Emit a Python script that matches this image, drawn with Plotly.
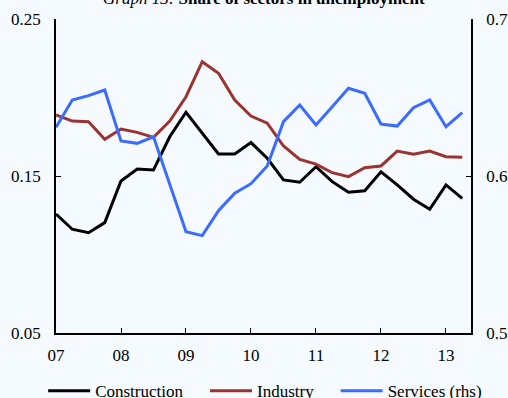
import plotly.graph_objects as go

## data (quarterly, 2007Q1 - 2013Q2) ##
x_q = [2007 + i * 0.25 for i in range(26)]
construction = [0.1258, 0.1161, 0.1139, 0.1203, 0.1468, 0.1545, 0.1538, 0.1750, 0.1906, 0.1772,
                0.1640, 0.1640, 0.1713, 0.1613, 0.1475, 0.1460, 0.1559, 0.1464, 0.1396, 0.1406,
                0.1527, 0.1443, 0.1352, 0.1288, 0.1443, 0.1358]
industry = [0.1889, 0.1850, 0.1846, 0.1734, 0.1799, 0.1778, 0.1746, 0.1850, 0.2005, 0.2228,
            0.2154, 0.1984, 0.1882, 0.1836, 0.1691, 0.1606, 0.1576, 0.1521, 0.1496, 0.1553,
            0.1564, 0.1659, 0.1638, 0.1659, 0.1623, 0.1619]
services = [0.6310, 0.6484, 0.6512, 0.6548, 0.6223, 0.6208, 0.6250, 0.5949, 0.5645, 0.5620,
            0.5779, 0.5890, 0.5951, 0.6064, 0.6346, 0.6452, 0.6325, 0.6441, 0.6559, 0.6527,
            0.6331, 0.6318, 0.6435, 0.6484, 0.6314, 0.6403]

year_ticks = [2007, 2008, 2009, 2010, 2011, 2012, 2013]
year_labels = ["07", "08", "09", "10", "11", "12", "13"]
left_ticks = [0.05, 0.15, 0.25]
right_ticks = [0.5, 0.6, 0.7]

bg = "#F5FAFE"
font = "Liberation Serif"
pad = "\u00a0" * 4  # extra room between legend entries

fig = go.Figure()
fig.add_trace(go.Scatter(x=x_q, y=construction, name="Construction" + pad, mode="lines",
                         line=dict(color="#000000", width=3)))
fig.add_trace(go.Scatter(x=x_q, y=industry, name="Industry" + pad, mode="lines",
                         line=dict(color="#9B3330", width=3)))
fig.add_trace(go.Scatter(x=x_q, y=services, name="Services (rhs)", mode="lines",
                         line=dict(color="#3B6BFF", width=3), yaxis="y2"))

axis_style = dict(showgrid=False, zeroline=False, showline=True, linecolor="black", linewidth=1.5,
                  ticks="inside", ticklen=5, tickcolor="black", automargin=False)

fig.update_layout(
    width=508, height=398,
    margin=dict(l=56, r=37, t=19, b=65, autoexpand=False),
    paper_bgcolor=bg, plot_bgcolor=bg,
    font=dict(family=font, size=17, color="#000000"),
    showlegend=True,
    legend=dict(orientation="h", x=-0.031, xanchor="left", y=-0.185, yanchor="middle",
                font=dict(family=font, size=17), bgcolor="rgba(0,0,0,0)", itemwidth=42),
    xaxis=dict(range=[2007, 2013.385], tickvals=year_ticks, ticktext=year_labels,
               ticklabelstandoff=6, **axis_style),
    yaxis=dict(range=[0.05, 0.25], tickvals=left_ticks, ticktext=["0.05", "0.15", "0.25"],
               ticklabelstandoff=10, **axis_style),
    yaxis2=dict(range=[0.5, 0.7], tickvals=right_ticks, ticktext=["0.5", "0.6", "0.7"],
                overlaying="y", side="right", ticklabelstandoff=10, **axis_style),
)

fig.add_annotation(xref="paper", yref="paper", x=0.5, y=1.064, showarrow=False,
                   yanchor="middle",
                   text="<i>Graph 13:</i> <b>Share of sectors in unemployment</b>",
                   font=dict(family=font, size=17))

fig.write_html("out.html", config={"displayModeBar": False},
               post_script="document.body.style.margin='0';document.body.style.background='" + bg + "';")
